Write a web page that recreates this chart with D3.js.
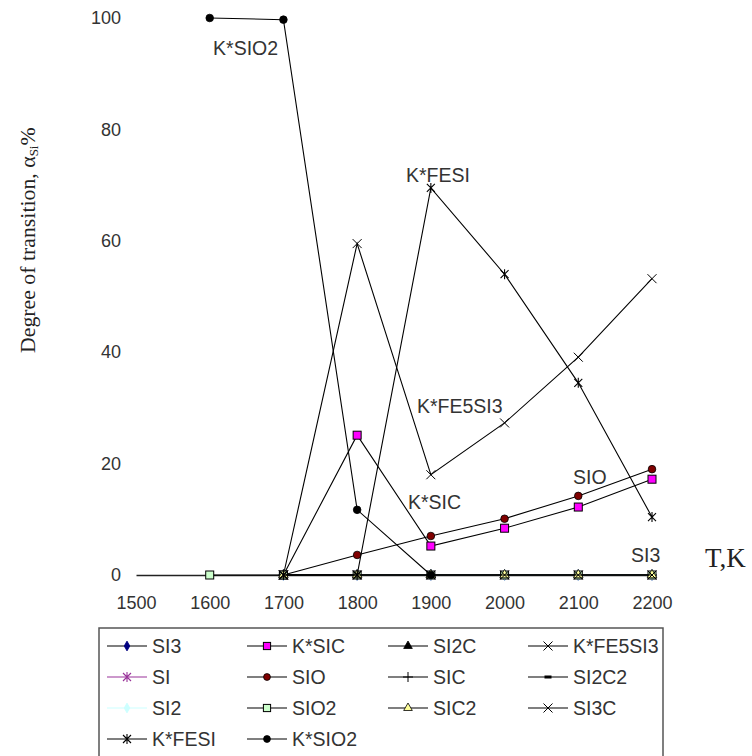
<!DOCTYPE html>
<html>
<head>
<meta charset="utf-8">
<script src="https://cdn.jsdelivr.net/npm/d3@7"></script>
<style>
  html, body { margin: 0; padding: 0; background: #fff; }
  svg { display: block; }
</style>
</head>
<body>
<svg id="chart" width="752" height="756"></svg>
<script>
// ---------- DATA ----------
const years = [1600, 1700, 1800, 1900, 2000, 2100, 2200];
const xTicks = [1500, 1600, 1700, 1800, 1900, 2000, 2100, 2200];
const yTicks = [0, 20, 40, 60, 80, 100];

const SI3      = [null, 0, 0, 0, 0, 0, 0];
const KSIC     = [null, 0, 25.1, 5.2, 8.4, 12.2, 17.2];
const SI2C     = [null, null, null, 0, null, null, null];
const KFE5SI3  = [null, 0, 59.5, 18.0, 27.3, 39.1, 53.2];
const SI       = [null, 0, 0, 0, 0, 0, 0];
const SIO      = [null, 0, 3.6, 7.0, 10.1, 14.2, 19.0];
const SIC      = [null, 0, 0, 0, 0, 0, 0];
const SI2C2    = [null, 0, 0, 0, 0, 0, 0];
const SI2      = [null, 0, 0, 0, 0, 0, 0];
const SIO2     = [0, 0, 0, 0, 0, 0, 0];
const SIC2     = [null, 0, 0, 0, 0, 0, 0];
const SI3C     = [null, 0, 0, 0, 0, 0, 0];
const KFESI    = [null, 0, 0, 69.5, 54.0, 34.5, 10.4];
const KSIO2    = [100, 99.7, 11.7, 0, null, null, null];

const seriesNames = ["SI3", "K*SIC", "SI2C", "K*FE5SI3", "SI", "SIO", "SIC", "SI2C2",
                     "SI2", "SIO2", "SIC2", "SI3C", "K*FESI", "K*SIO2"];
const seriesValues = [SI3, KSIC, SI2C, KFE5SI3, SI, SIO, SIC, SI2C2,
                      SI2, SIO2, SIC2, SI3C, KFESI, KSIO2];

// in-chart annotations (text, year, value at baseline-left of text)
const annoText  = ["K*SIO2", "K*FESI", "K*FE5SI3", "K*SIC", "SIO", "SI3"];
const annoYear  = [1604.5, 1866.3, 1881.2, 1869, 2092.9, 2171.5];
const annoValue = [93.4, 70.6, 29.1, 11.85, 16.3, 2.3];

// ---------- STYLES ----------
const styles = {
  "SI3":      {line: "#000", marker: "diamond", fill: "#000080", stroke: "#000080"},
  "K*SIC":    {line: "#000", marker: "square",  fill: "#ff00ff", stroke: "#000"},
  "SI2C":     {line: "#000", marker: "triangle",fill: "#000",    stroke: "#000"},
  "K*FE5SI3": {line: "#000", marker: "x",       fill: "none",    stroke: "#000"},
  "SI":       {line: "#993399", marker: "asterisk", fill: "none", stroke: "#993399"},
  "SIO":      {line: "#000", marker: "circle",  fill: "#800000", stroke: "#000"},
  "SIC":      {line: "#000", marker: "plus",    fill: "none",    stroke: "#000"},
  "SI2C2":    {line: "#000", marker: "dash",    fill: "#000",    stroke: "#000"},
  "SI2":      {line: "#ccffff", marker: "diamond", fill: "#ccffff", stroke: "#ccffff"},
  "SIO2":     {line: "#000", marker: "square",  fill: "#ccffcc", stroke: "#000"},
  "SIC2":     {line: "#000", marker: "triangle",fill: "#ffff99", stroke: "#000"},
  "SI3C":     {line: "#000", marker: "x",       fill: "none",    stroke: "#000"},
  "K*FESI":   {line: "#000", marker: "asterisk",fill: "none",    stroke: "#000"},
  "K*SIO2":   {line: "#000", marker: "circle",  fill: "#000",    stroke: "#000"}
};

// ---------- CHART ----------
const svg = d3.select("#chart");
const x = d3.scaleLinear().domain([1500, 2200]).range([136, 652]);
const y = d3.scaleLinear().domain([0, 100]).range([575, 18]);

const textColor = "#333";

// axes
const xAxis = svg.append("g")
  .attr("transform", `translate(0,${y(0)})`)
  .call(d3.axisBottom(x).tickValues(xTicks).tickFormat(d3.format("d")).tickSize(0).tickPadding(21));
xAxis.select(".domain").attr("stroke", "#222").attr("stroke-width", 1.3);
xAxis.selectAll("text").attr("font-family", "Liberation Sans, Arial, sans-serif")
  .attr("font-size", 18).attr("fill", textColor);

const yAxis = svg.append("g")
  .attr("transform", `translate(${x(1500)},0)`)
  .call(d3.axisLeft(y).tickValues(yTicks).tickSize(0).tickPadding(15));
yAxis.select(".domain").remove();
yAxis.selectAll("text").attr("font-family", "Liberation Sans, Arial, sans-serif")
  .attr("font-size", 18).attr("fill", textColor);

// marker drawing
function drawMarker(g, type, st, scale) {
  const s = scale || 1;
  switch (type) {
    case "diamond":
      g.append("path").attr("d", d3.symbol(d3.symbolDiamond, 34 * s * s)())
        .attr("fill", st.fill).attr("stroke", st.stroke).attr("stroke-width", 0.8);
      break;
    case "square":
      g.append("rect").attr("x", -4 * s).attr("y", -4 * s).attr("width", 8 * s).attr("height", 8 * s)
        .attr("fill", st.fill).attr("stroke", st.stroke).attr("stroke-width", 1);
      break;
    case "triangle":
      g.append("path").attr("d", d3.symbol(d3.symbolTriangle, 40 * s * s)())
        .attr("fill", st.fill).attr("stroke", st.stroke).attr("stroke-width", 0.8);
      break;
    case "circle":
      g.append("circle").attr("r", 3.8 * s)
        .attr("fill", st.fill).attr("stroke", st.stroke).attr("stroke-width", 0.8);
      break;
    case "x":
      g.append("path").attr("d", "M-4.5,-4.5L4.5,4.5M-4.5,4.5L4.5,-4.5")
        .attr("fill", "none").attr("stroke", st.stroke).attr("stroke-width", 1);
      break;
    case "asterisk":
      g.append("path").attr("d", "M-4,-4L4,4M-4,4L4,-4M0,-5L0,5")
        .attr("fill", "none").attr("stroke", st.stroke).attr("stroke-width", 1.1);
      break;
    case "plus":
      g.append("path").attr("d", "M0,-5L0,5M-5,0L5,0")
        .attr("fill", "none").attr("stroke", st.stroke).attr("stroke-width", 1);
      break;
    case "dash":
      g.append("rect").attr("x", -3.5).attr("y", -1.5).attr("width", 7).attr("height", 3)
        .attr("fill", st.fill);
      break;
  }
}

const line = d3.line()
  .defined(d => d.v !== null)
  .x(d => x(d.year))
  .y(d => y(d.v));

const plot = svg.append("g");
seriesNames.forEach((name, i) => {
  const st = styles[name];
  const pts = years.map((yr, j) => ({year: yr, v: seriesValues[i][j]}));
  plot.append("path").datum(pts)
    .attr("d", line)
    .attr("fill", "none")
    .attr("stroke", st.line)
    .attr("stroke-width", 1.1);
  pts.filter(p => p.v !== null).forEach(p => {
    const g = plot.append("g").attr("transform", `translate(${x(p.year)},${y(p.v)})`);
    drawMarker(g, st.marker, st);
  });
});

// annotations
annoText.forEach((t, i) => {
  svg.append("text")
    .attr("x", x(annoYear[i]))
    .attr("y", y(annoValue[i]))
    .attr("font-family", "Liberation Sans, Arial, sans-serif")
    .attr("font-size", 19.5)
    .attr("fill", textColor)
    .text(t);
});

// axis titles
svg.append("text")
  .attr("x", 705).attr("y", 567)
  .attr("font-family", "Liberation Serif, Times New Roman, serif")
  .attr("font-size", 27)
  .attr("fill", "#222")
  .text("T,K");

const yt = svg.append("text")
  .attr("transform", "translate(35,353) rotate(-90)")
  .attr("font-family", "Liberation Serif, Times New Roman, serif")
  .attr("font-size", 21.8)
  .attr("fill", "#222");
yt.append("tspan").text("Degree of transition, α");
yt.append("tspan").attr("font-size", 13).attr("dy", 3).text("Si");
yt.append("tspan").attr("dy", -3).text("%");

// legend
const legend = svg.append("g");
legend.append("rect")
  .attr("x", 99).attr("y", 628).attr("width", 564).attr("height", 150)
  .attr("fill", "#fff").attr("stroke", "#555").attr("stroke-width", 1.5);

const colX = [107, 247, 388, 528];
const rowY = [646, 677, 708, 739];
seriesNames.forEach((name, i) => {
  const st = styles[name];
  const cx = colX[i % 4], cy = rowY[Math.floor(i / 4)];
  const g = legend.append("g");
  g.append("line").attr("x1", cx).attr("x2", cx + 40).attr("y1", cy).attr("y2", cy)
    .attr("stroke", st.line).attr("stroke-width", 1.1);
  const mg = g.append("g").attr("transform", `translate(${cx + 20},${cy})`);
  drawMarker(mg, st.marker, st, 0.9);
  g.append("text").attr("x", cx + 45).attr("y", cy + 7)
    .attr("font-family", "Liberation Sans, Arial, sans-serif")
    .attr("font-size", 19.5)
    .attr("fill", textColor)
    .text(name);
});
</script>
</body>
</html>
